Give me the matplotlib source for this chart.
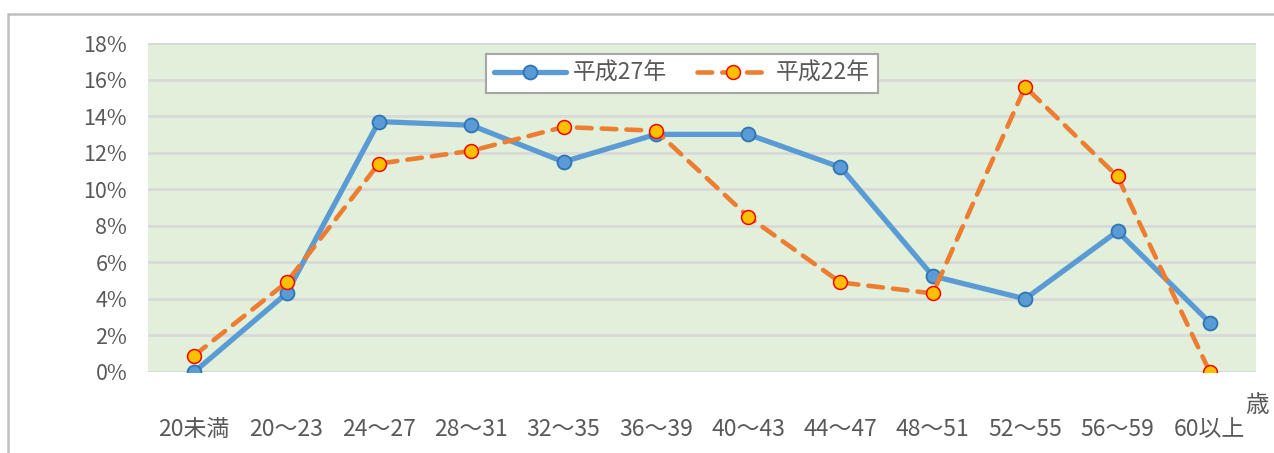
import matplotlib
matplotlib.use("Agg")
import matplotlib.pyplot as plt
from matplotlib.patches import Rectangle
from matplotlib.ticker import FuncFormatter

plt.rcParams['font.family'] = ['Noto Sans CJK JP', 'DejaVu Sans']

categories = ["20未満", "20〜23", "24〜27", "28〜31", "32〜35", "36〜39",
              "40〜43", "44〜47", "48〜51", "52〜55", "56〜59", "60以上"]
h27 = [0.0, 4.3, 13.7, 13.5, 11.5, 13.0, 13.0, 11.2, 5.25, 4.0, 7.7, 2.7]
h22 = [0.9, 4.9, 11.4, 12.1, 13.4, 13.2, 8.5, 4.9, 4.3, 15.6, 10.7, 0.0]
series_names = ["平成27年", "平成22年"]
yticks = [0, 2, 4, 6, 8, 10, 12, 14, 16, 18]

W, H = 1274, 453
fig = plt.figure(figsize=(W / 100, H / 100), dpi=100)
fig.patch.set_facecolor("white")

# outer chart frame
fig.add_artist(Rectangle((8 / W, -0.2), 1.2, (453 - 14) / H + 0.2,
                         transform=fig.transFigure, fill=False,
                         edgecolor="#bfbfbf", linewidth=1.8))

ax = fig.add_axes([148 / W, 1 - 372 / H, (1256 - 148) / W, (372 - 43) / H])
ax.set_facecolor("#e2efda")
x = list(range(len(categories)))

ax.plot(x, h27, color="#5b9bd5", linewidth=3.8, marker="o", markersize=10,
        markerfacecolor="#5b9bd5", markeredgecolor="#2e75b6",
        markeredgewidth=1.3, label=series_names[0], zorder=3,
        solid_capstyle="round")
ax.plot(x, h22, color="#ed7d31", linewidth=3.3, linestyle=(0, (3.2, 2.2)),
        marker="o", markersize=10, markerfacecolor="#ffc000",
        markeredgecolor="#ff0000", markeredgewidth=1.1,
        label=series_names[1], zorder=4, dash_capstyle="round")

ax.set_xlim(-0.5, len(categories) - 0.5)
ax.set_ylim(0, 18)
ax.set_yticks(yticks)
ax.yaxis.set_major_formatter(FuncFormatter(lambda v, p: f"{int(v)}%"))
ax.grid(axis="y", color="#d9d9d9", linewidth=2)
ax.set_axisbelow(True)
for s in ax.spines.values():
    s.set_visible(False)
ax.set_xticks(x)
ax.set_xticklabels(categories)
ax.tick_params(axis="both", length=0, colors="#595959")
ax.tick_params(axis="x", pad=33, labelsize=16.5)
ax.tick_params(axis="y", pad=15, labelsize=15.5)

leg = ax.legend(loc="upper left",
                bbox_to_anchor=((486 - 148) / (1256 - 148), 1 - (54 - 43) / (372 - 43)),
                ncol=2, frameon=True, fancybox=False, fontsize=16.5,
                handlelength=3.15, columnspacing=1.3, borderpad=0.35,
                handletextpad=0.3, borderaxespad=0, labelcolor="#595959")
leg.get_frame().set_edgecolor("#a6a6a6")
leg.get_frame().set_linewidth(1.5)
leg.get_frame().set_facecolor("white")
leg.get_frame().set_alpha(1)

fig.text(1257 / W, 1 - 405 / H, "歳", fontsize=17, color="#595959",
         ha="center", va="center")

fig.savefig("out.png", dpi=100)
